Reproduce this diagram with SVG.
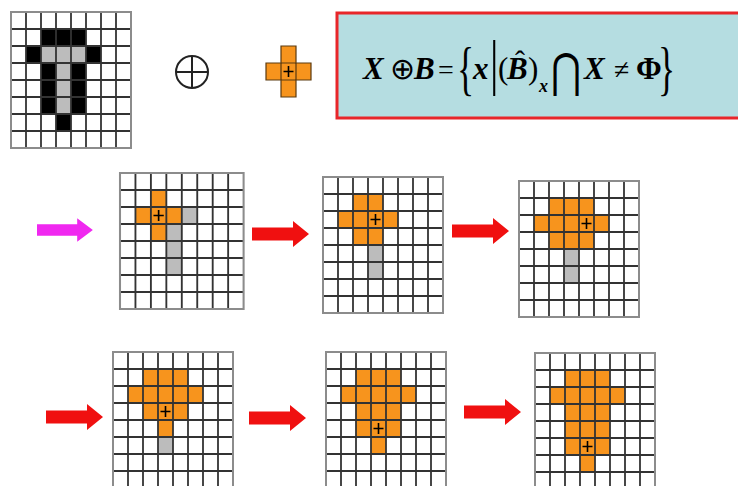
<svg xmlns="http://www.w3.org/2000/svg" xmlns:xlink="http://www.w3.org/1999/xlink" width="738" height="486" viewBox="0 0 738 486">
<style>
.o{fill:#f7941d}
.g{fill:#bcbcbc}
.k{fill:#000}
.in{stroke:#333;stroke-width:1.8;fill:none}
.out{stroke:#8c8c8c;stroke-width:2;fill:none}
.f{font-family:"Liberation Serif","Times New Roman",serif;fill:#000}
.bi{font-weight:bold;font-style:italic}
.red{fill:#f01010}
.mag{fill:#f028f0}
</style>
<defs>
<g id="lines">
<path class="in" d="M15,0V136M30,0V136M45,0V136M60,0V136M75,0V136M90,0V136M105,0V136M0,17H120M0,34H120M0,51H120M0,68H120M0,85H120M0,102H120M0,119H120"/>
<rect class="out" x="0" y="0" width="120" height="136"/>
</g>
<path id="plus" d="M-5,0H5M0,-5.5V5.5" stroke="#000" stroke-width="1.6"/>
<path id="arrow" d="M0,-6.5H41V-13L57,0L41,13V6.5H0Z"/>
</defs>
<rect width="738" height="486" fill="#fff"/>

<g id="grid1" transform="translate(11,12)">
<rect x="0" y="0" width="120" height="136" fill="#fff"/>
<rect class="k" x="30" y="17" width="45" height="17"/>
<rect class="k" x="15" y="34" width="15" height="17"/>
<rect class="k" x="75" y="34" width="15" height="17"/>
<rect class="k" x="30" y="51" width="15" height="51"/>
<rect class="k" x="60" y="51" width="15" height="51"/>
<rect class="k" x="45" y="102" width="15" height="17"/>
<rect class="g" x="30" y="34" width="45" height="17"/>
<rect class="g" x="45" y="51" width="15" height="51"/>
<use xlink:href="#lines"/>
</g>

<g id="oplus">
<circle cx="192" cy="72" r="16" fill="none" stroke="#222" stroke-width="2"/>
<path d="M176,72H208M192,56V88" stroke="#222" stroke-width="2"/>
</g>

<g id="se" transform="translate(266,46)">
<path d="M15,0H30V17H45V34H30V51H15V34H0V17H15Z" class="o" stroke="#5a3a10" stroke-width="1.2"/>
<path d="M15,17V34M30,17V34M15,17H30M15,34H30" stroke="#5a3a10" stroke-width="1.2" fill="none"/>
<use xlink:href="#plus" x="22.5" y="25.5"/>
</g>

<g id="formula">
<rect x="337" y="13" width="410" height="105" fill="#b5dde1" stroke="#e8262a" stroke-width="3"/>
<text class="f bi" x="363" y="79" font-size="31">X</text>
<text class="f" x="390" y="79" font-size="30">⊕</text>
<text class="f bi" x="414" y="79" font-size="31">B</text>
<text class="f" x="438" y="79" font-size="28">=</text>
<text class="f" transform="translate(457,88) scale(0.85,1.4)" font-size="42">{</text>
<text class="f bi" x="473" y="79" font-size="31">x</text>
<text class="f" transform="translate(490,83) scale(1,1.44)" font-size="42">|</text>
<text class="f" x="498" y="79" font-size="31">(</text>
<text class="f bi" x="507" y="79" font-size="31">B</text>
<text class="f" x="520" y="71" font-size="30" text-anchor="middle">ˆ</text>
<text class="f" x="528" y="79" font-size="31">)</text>
<text class="f bi" x="539" y="92" font-size="18">x</text>
<text transform="translate(551,87) scale(0.78,1)" font-size="47" font-family="'DejaVu Serif',serif">⋂</text>
<text class="f bi" x="584" y="79" font-size="31">X</text>
<text class="f" x="614" y="79" font-size="28">≠</text>
<text class="f" x="636" y="79" font-size="31" font-weight="bold">Φ</text>
<text class="f" transform="translate(658,88) scale(0.85,1.4)" font-size="42">}</text>
</g>

<g id="grid2" transform="translate(120,173) scale(1.03,1)">
<rect x="0" y="0" width="120" height="136" fill="#fff"/>
<rect class="g" x="60" y="34" width="15" height="17"/>
<rect class="g" x="45" y="51" width="15" height="51"/>
<path class="o" d="M30,17H45V34H60V51H45V68H30V51H15V34H30Z"/>
<use xlink:href="#lines"/>
<use xlink:href="#plus" x="37.5" y="42.5"/>
</g>

<g id="grid3" transform="translate(323,177)">
<rect x="0" y="0" width="120" height="136" fill="#fff"/>
<rect class="g" x="45" y="68" width="15" height="34"/>
<path class="o" d="M30,17H60V34H75V51H60V68H30V51H15V34H30Z"/>
<use xlink:href="#lines"/>
<use xlink:href="#plus" x="52.5" y="42.5"/>
</g>

<g id="grid4" transform="translate(519,181)">
<rect x="0" y="0" width="120" height="136" fill="#fff"/>
<rect class="g" x="45" y="68" width="15" height="34"/>
<path class="o" d="M30,17H75V34H90V51H75V68H30V51H15V34H30Z"/>
<use xlink:href="#lines"/>
<use xlink:href="#plus" x="67.5" y="42.5"/>
</g>

<g id="grid5" transform="translate(113,352)">
<rect x="0" y="0" width="120" height="136" fill="#fff"/>
<rect class="g" x="45" y="85" width="15" height="17"/>
<path class="o" d="M30,17H75V34H90V51H75V68H60V85H45V68H30V51H15V34H30Z"/>
<use xlink:href="#lines"/>
<use xlink:href="#plus" x="52.5" y="59.5"/>
</g>

<g id="grid6" transform="translate(326,352)">
<rect x="0" y="0" width="120" height="136" fill="#fff"/>
<path class="o" d="M30,17H75V34H90V51H75V85H60V102H45V85H30V51H15V34H30Z"/>
<use xlink:href="#lines"/>
<use xlink:href="#plus" x="52.5" y="76.5"/>
</g>

<g id="grid7" transform="translate(535,353)">
<rect x="0" y="0" width="120" height="136" fill="#fff"/>
<path class="o" d="M30,17H75V34H90V51H75V102H60V119H45V102H30V51H15V34H30Z"/>
<use xlink:href="#lines"/>
<use xlink:href="#plus" x="52.5" y="93.5"/>
</g>

<g id="connectors">
<use xlink:href="#arrow" class="mag" transform="translate(37,230) scale(0.98,0.9)"/>
<use xlink:href="#arrow" class="red" transform="translate(252,234)"/>
<use xlink:href="#arrow" class="red" transform="translate(452,231)"/>
<use xlink:href="#arrow" class="red" transform="translate(46,417)"/>
<use xlink:href="#arrow" class="red" transform="translate(249,418)"/>
<use xlink:href="#arrow" class="red" transform="translate(464,412)"/>
</g>
</svg>
